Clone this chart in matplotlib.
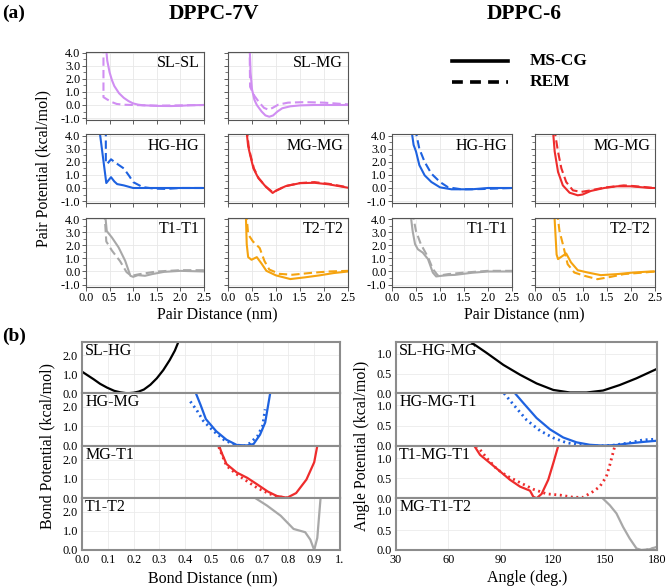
import matplotlib
matplotlib.use("Agg")
import matplotlib.pyplot as plt
from matplotlib.lines import Line2D
import numpy as np

plt.rcParams['font.family'] = ['Liberation Serif', 'DejaVu Serif']
plt.rcParams['axes.unicode_minus'] = False

# ---- (a) pair potentials, (x nm, kcal/mol) ----
# DPPC-7V
slsl_7v_ms = [(0.42, 4.6), (0.45, 3.4), (0.5, 2.5), (0.55, 1.9), (0.6, 1.45), (0.7, 0.9), (0.8, 0.55),
              (0.9, 0.3), (1.0, 0.12), (1.1, 0.03), (1.2, -0.02), (1.5, -0.07), (1.8, -0.08),
              (2.0, -0.06), (2.2, -0.02), (2.5, 0.0)]
slsl_7v_rem = [(0.37, 4.6), (0.37, 0.6), (0.45, 0.42), (0.55, 0.22), (0.65, 0.08), (0.8, 0.02),
               (1.0, 0.0), (1.5, -0.05), (2.0, -0.03), (2.5, 0.0)]
slmg_7v_ms = [(0.45, 4.6), (0.47, 2.5), (0.5, 1.2), (0.55, 0.4), (0.6, 0.0), (0.7, -0.5), (0.78, -0.8),
              (0.86, -0.9), (0.94, -0.8), (1.03, -0.5), (1.13, -0.25), (1.3, -0.1), (1.5, -0.03),
              (1.8, 0.0), (2.5, 0.0)]
slmg_7v_rem = [(0.45, 4.6), (0.46, 1.4), (0.55, 0.7), (0.65, 0.2), (0.75, -0.22), (0.84, -0.36),
               (0.93, -0.22), (1.05, 0.03), (1.25, 0.18), (1.6, 0.22), (2.0, 0.18), (2.3, 0.1), (2.5, 0.05)]
hghg_7v_ms = [(0.28, 4.6), (0.43, 0.38), (0.53, 0.83), (0.6, 0.5), (0.66, 0.3), (0.8, 0.2),
              (1.0, 0.0), (1.5, 0.0), (2.5, 0.0)]
hghg_7v_rem = [(0.42, 4.6), (0.42, 1.9), (0.45, 1.85), (0.53, 2.2), (0.62, 1.95), (0.8, 1.5),
               (0.92, 0.9), (1.0, 0.45), (1.2, 0.07), (1.45, -0.05), (1.7, -0.07), (2.0, 0.0), (2.5, 0.0)]
mgmg_7v_ms = [(0.38, 4.6), (0.42, 3.2), (0.46, 2.55), (0.53, 1.5), (0.63, 0.77), (0.78, 0.13),
              (0.93, -0.38), (1.0, -0.2), (1.2, 0.14), (1.5, 0.37), (1.8, 0.4), (2.1, 0.28), (2.5, 0.02)]
mgmg_7v_rem = [(0.39, 4.6), (0.43, 3.2), (0.47, 2.5), (0.54, 1.5), (0.64, 0.75), (0.79, 0.1),
               (0.94, -0.35), (1.02, -0.18), (1.2, 0.15), (1.5, 0.38), (1.8, 0.45), (2.1, 0.32), (2.5, 0.05)]
t1t1_7v_ms = [(0.4, 4.6), (0.44, 3.1), (0.55, 2.6), (0.69, 1.85), (0.83, 0.82), (0.94, -0.33),
              (1.0, -0.41), (1.1, -0.28), (1.25, -0.33), (1.4, -0.2), (1.65, -0.03), (2.0, 0.05), (2.5, 0.0)]
t1t1_7v_rem = [(0.39, 4.6), (0.43, 2.3), (0.55, 1.6), (0.72, 0.8), (0.86, -0.05), (0.96, -0.33),
               (1.14, -0.2), (1.5, 0.0), (2.0, 0.1), (2.5, 0.1)]
t2t2_7v_ms = [(0.37, 4.6), (0.39, 2.1), (0.42, 1.1), (0.49, 0.9), (0.6, 1.1), (0.7, 0.6), (0.8, 0.05),
              (1.0, -0.3), (1.3, -0.58), (1.6, -0.45), (1.9, -0.3), (2.2, -0.12), (2.5, 0.0)]
t2t2_7v_rem = [(0.38, 4.6), (0.42, 2.85), (0.52, 2.3), (0.66, 1.8), (0.76, 0.8), (0.86, 0.15),
               (1.07, -0.18), (1.34, -0.25), (1.75, -0.1), (2.1, 0.0), (2.5, 0.05)]
# DPPC-6
hghg_6_ms = [(0.4, 4.6), (0.45, 3.3), (0.5, 2.8), (0.57, 1.75), (0.68, 0.97), (0.82, 0.46),
             (1.0, 0.05), (1.24, -0.1), (1.66, -0.1), (2.0, 0.0), (2.5, 0.0)]
hghg_6_rem = [(0.48, 4.6), (0.57, 3.0), (0.68, 2.0), (0.82, 1.1), (1.0, 0.46), (1.17, 0.05),
              (1.45, -0.1), (1.87, -0.08), (2.5, 0.0)]
mgmg_6_ms = [(0.37, 4.6), (0.41, 2.8), (0.48, 1.23), (0.58, 0.2), (0.72, -0.36), (0.89, -0.56),
             (0.99, -0.5), (1.16, -0.23), (1.44, 0.0), (1.71, 0.13), (1.99, 0.13), (2.4, 0.0), (2.5, 0.0)]
mgmg_6_rem = [(0.4, 4.6), (0.48, 2.77), (0.55, 1.5), (0.65, 0.46), (0.79, -0.18), (0.96, -0.3),
              (1.16, -0.18), (1.44, 0.03), (1.85, 0.2), (2.05, 0.15), (2.5, 0.0)]
t1t1_6_ms = [(0.38, 4.6), (0.43, 3.1), (0.48, 2.1), (0.54, 1.7), (0.64, 1.45), (0.75, 0.95),
             (0.85, -0.08), (0.92, -0.38), (1.03, -0.33), (1.17, -0.28), (1.31, -0.26), (1.66, -0.1),
             (2.0, 0.0), (2.5, 0.0)]
t1t1_6_rem = [(0.42, 4.6), (0.5, 3.1), (0.6, 2.1), (0.75, 1.1), (0.85, 0.2), (0.96, -0.33),
              (1.17, -0.2), (1.52, -0.08), (2.0, 0.05), (2.5, 0.05)]
t2t2_6_ms = [(0.4, 4.6), (0.45, 1.3), (0.48, 0.95), (0.55, 1.13), (0.65, 1.38), (0.75, 0.7),
             (0.89, 0.1), (1.1, -0.08), (1.37, -0.28), (1.71, -0.2), (2.05, -0.08), (2.4, 0.0), (2.5, 0.0)]
t2t2_6_rem = [(0.46, 4.6), (0.51, 3.1), (0.58, 2.1), (0.68, 0.56), (0.82, -0.08), (1.03, -0.33),
              (1.3, -0.59), (1.58, -0.41), (1.85, -0.2), (2.26, -0.08), (2.5, 0.0)]

# ---- (b) bonded potentials ----
bond_slhg = [(0.0, 1.14), (0.045, 0.74), (0.07, 0.5), (0.097, 0.3), (0.125, 0.13), (0.149, 0.05),
             (0.175, 0.0), (0.2, 0.03), (0.22, 0.09), (0.24, 0.2), (0.265, 0.45), (0.29, 0.79),
             (0.315, 1.22), (0.34, 1.75), (0.36, 2.25), (0.375, 2.75)]
bond_hgmg_ms = [(0.44, 2.75), (0.46, 2.09), (0.48, 1.38), (0.52, 0.76), (0.56, 0.32), (0.6, 0.05),
                (0.64, 0.03), (0.665, 0.1), (0.69, 0.58), (0.71, 1.2), (0.73, 2.75)]
bond_hgmg_rem = [(0.42, 2.28), (0.445, 1.83), (0.47, 1.29), (0.51, 0.76), (0.55, 0.32), (0.59, 0.07),
                 (0.63, 0.0), (0.65, 0.14), (0.68, 0.5), (0.7, 1.03), (0.71, 1.88)]
bond_mgt1_ms = [(0.53, 2.78), (0.54, 2.39), (0.56, 1.77), (0.6, 1.33), (0.64, 1.06), (0.68, 0.71),
                (0.72, 0.35), (0.755, 0.12), (0.795, 0.03), (0.83, 0.27), (0.87, 0.97), (0.9, 1.86),
                (0.913, 2.78)]
bond_mgt1_rem = [(0.53, 2.65), (0.56, 1.68), (0.6, 1.24), (0.64, 0.88), (0.68, 0.53), (0.72, 0.27),
                 (0.755, 0.09), (0.795, 0.02)]
bond_t1t2 = [(0.665, 2.77), (0.717, 2.32), (0.77, 1.79), (0.82, 1.1), (0.865, 0.93), (0.885, 0.54),
             (0.9, 0.0), (0.912, 0.63), (0.925, 2.77)]

ang_slhgmg = [(72.6, 1.31), (82.2, 1.02), (91.7, 0.72), (101.3, 0.47), (110.8, 0.25), (120.4, 0.085),
              (130, 0.02), (139.5, 0.02), (149, 0.07), (158.6, 0.21), (168.2, 0.38), (180, 0.62)]
ang_hgmgt1_ms = [(98.4, 1.3), (103.2, 1.06), (110.8, 0.69), (118.5, 0.41), (126.1, 0.21), (133.8, 0.09),
                 (141.4, 0.03), (149, 0.01), (156.7, 0.025), (164.3, 0.066), (171.9, 0.1), (180, 0.13)]
ang_hgmgt1_rem = [(92.1, 1.3), (97.5, 1.02), (105.1, 0.64), (112.7, 0.38), (120.4, 0.2), (128, 0.08),
                  (135.7, 0.03), (145.2, 0.0), (154.8, 0.02), (164.3, 0.08), (171.9, 0.15), (180, 0.17)]
ang_t1mgt1_ms = [(74.9, 1.31), (78.3, 1.08), (84.1, 0.875), (89.8, 0.67), (95.5, 0.46), (101.3, 0.29),
                 (107, 0.19), (108.9, 0.04), (110.8, 0.0), (113.7, 0.11), (117.5, 0.46), (120.4, 0.875),
                 (123.3, 1.31)]
ang_t1mgt1_rem = [(76.4, 1.31), (82.2, 1.0), (87.9, 0.73), (93.6, 0.56), (101.3, 0.39), (108.9, 0.225),
                  (116.6, 0.11), (124.2, 0.08), (131.9, 0.025), (137.6, 0.025), (143.3, 0.17),
                  (147.1, 0.29), (150.9, 0.54), (152.9, 0.83), (155.7, 1.29)]
ang_mgt1t2_ms = [(149, 1.29), (152.9, 1.125), (156.7, 0.92), (160.5, 0.58), (164.3, 0.29), (168.2, 0.04),
                 (171, 0.0), (175.8, 0.02), (180, 0.08)]
ang_mgt1t2_rem = [(173.9, 0.0), (176.5, 0.03), (180, 0.07)]

purple = '#d08ef2'
blue = '#1e62e0'
red = '#ee2c2c'
gray = '#a8a8a8'
orange = '#f5a30f'

W, H = 666, 588
fig = plt.figure(figsize=(W / 100, H / 100), dpi=100)


def px_axes(x0, y0, x1, y1):
    return fig.add_axes([x0 / W, 1 - y1 / H, (x1 - x0) / W, (y1 - y0) / H])


def pair_panel(x0, y0, x1, y1, name, ms, rem, color, ylab, xlab):
    ax = px_axes(x0, y0, x1, y1)
    xs, ys = zip(*ms)
    ax.plot(xs, ys, color=color, lw=1.5)
    xs, ys = zip(*rem)
    ax.plot(xs, ys, color=color, lw=1.5, ls=(0, (4, 2)))
    ax.set_xlim(0, 2.5)
    ax.set_ylim(-1.15, 4.1)
    ax.set_xticks(np.arange(0, 2.51, 0.5))
    ax.set_yticks([-1, 0, 1, 2, 3, 4])
    ax.set_yticks(np.arange(-1, 4.01, 0.5), minor=True)
    ax.grid(True, color='#e8e8e8', lw=0.6)
    ax.set_axisbelow(True)
    ax.tick_params(direction='out', length=3, width=0.6, color='#444444', labelsize=8.8, pad=1)
    ax.tick_params(which='minor', direction='out', length=2, width=0.5, color='#444444')
    for s in ax.spines.values():
        s.set_color('#555555')
        s.set_linewidth(0.8)
    if ylab:
        ax.set_yticklabels(['%.1f' % v for v in [-1, 0, 1, 2, 3, 4]])
    else:
        ax.set_yticklabels([])
    if xlab:
        ax.set_xticklabels(['%.1f' % v for v in np.arange(0, 2.51, 0.5)])
    else:
        ax.set_xticklabels([])
    ax.text(0.96, 0.95, name, transform=ax.transAxes, ha='right', va='top', fontsize=11.5)
    return ax


cols = [(86, 204), (228, 348), (392, 512), (535, 655)]
rows = [(51.5, 120), (134.5, 203), (218, 286.5)]

pair_panel(cols[0][0], rows[0][0], cols[0][1], rows[0][1], 'SL-SL', slsl_7v_ms, slsl_7v_rem, purple, True, False)
pair_panel(cols[1][0], rows[0][0], cols[1][1], rows[0][1], 'SL-MG', slmg_7v_ms, slmg_7v_rem, purple, False, False)
pair_panel(cols[0][0], rows[1][0], cols[0][1], rows[1][1], 'HG-HG', hghg_7v_ms, hghg_7v_rem, blue, True, False)
pair_panel(cols[1][0], rows[1][0], cols[1][1], rows[1][1], 'MG-MG', mgmg_7v_ms, mgmg_7v_rem, red, False, False)
pair_panel(cols[0][0], rows[2][0], cols[0][1], rows[2][1], 'T1-T1', t1t1_7v_ms, t1t1_7v_rem, gray, True, True)
pair_panel(cols[1][0], rows[2][0], cols[1][1], rows[2][1], 'T2-T2', t2t2_7v_ms, t2t2_7v_rem, orange, False, True)
pair_panel(cols[2][0], rows[1][0], cols[2][1], rows[1][1], 'HG-HG', hghg_6_ms, hghg_6_rem, blue, True, False)
pair_panel(cols[3][0], rows[1][0], cols[3][1], rows[1][1], 'MG-MG', mgmg_6_ms, mgmg_6_rem, red, False, False)
pair_panel(cols[2][0], rows[2][0], cols[2][1], rows[2][1], 'T1-T1', t1t1_6_ms, t1t1_6_rem, gray, True, True)
pair_panel(cols[3][0], rows[2][0], cols[3][1], rows[2][1], 'T2-T2', t2t2_6_ms, t2t2_6_rem, orange, False, True)

# titles and labels for (a)
fig.text(14 / W, 1 - 13 / H, '(a)', fontsize=14, fontweight='bold', ha='center', va='center')
fig.text(214 / W, 1 - 14 / H, 'DPPC-7V', fontsize=15.5, fontweight='bold', ha='center', va='center')
fig.text(524 / W, 1 - 14 / H, 'DPPC-6', fontsize=15.5, fontweight='bold', ha='center', va='center')
fig.text(43 / W, 1 - 169 / H, 'Pair Potential (kcal/mol)', fontsize=11.5, rotation=90, ha='center', va='center')
fig.text(217 / W, 1 - 315 / H, 'Pair Distance (nm)', fontsize=11.5, ha='center', va='center')
fig.text(524 / W, 1 - 315 / H, 'Pair Distance (nm)', fontsize=11.5, ha='center', va='center')

# legend
fig.add_artist(Line2D([452 / W, 508 / W], [1 - 61 / H, 1 - 61 / H], color='black', lw=2.6))
fig.add_artist(Line2D([452 / W, 508 / W], [1 - 82 / H, 1 - 82 / H], color='black', lw=2.6, ls=(0, (3, 2))))
fig.text(530 / W, 1 - 61 / H, 'MS-CG', fontsize=12.5, fontweight='bold', va='center')
fig.text(530 / W, 1 - 82 / H, 'REM', fontsize=12.5, fontweight='bold', va='center')

# ---- (b) ----
fig.text(14 / W, 1 - 336 / H, '(b)', fontsize=14, fontweight='bold', ha='center', va='center')

bnd = [342, 393.3, 446, 498.3, 550]


def bonded_panel(x0, x1, i, name, ms, rem, color, xlim, xticks, xlabels, ylim, yticks):
    ax = px_axes(x0, bnd[i], x1, bnd[i + 1])
    xs, ys = zip(*ms)
    ax.plot(xs, ys, color=color, lw=1.6)
    if rem is not None:
        xs, ys = zip(*rem)
        ax.plot(xs, ys, color=color, lw=2.0, ls=(0, (0.7, 1.3)))
    ax.set_xlim(*xlim)
    ax.set_ylim(*ylim)
    ax.set_xticks(xticks)
    ax.set_yticks(yticks)
    ax.set_yticklabels(['%.1f' % v for v in yticks])
    if i == 3:
        ax.set_xticklabels(xlabels)
    else:
        ax.set_xticklabels([])
    ax.grid(True, color='#ebebeb', lw=0.6)
    ax.set_axisbelow(True)
    ax.tick_params(length=0, labelsize=8.8, pad=3)
    for s in ax.spines.values():
        s.set_color('#8c8c8c')
        s.set_linewidth(1.5)
    ax.text(0.012, 0.98, name, transform=ax.transAxes, ha='left', va='top', fontsize=11.5)
    return ax


bx = [0.0, 0.1, 0.2, 0.3, 0.4, 0.5, 0.6, 0.7, 0.8, 0.9, 1.0]
bxl = ['%.1f' % v for v in bx[:-1]] + ['1.']
bonded_panel(82, 340, 0, 'SL-HG', bond_slhg, None, 'black', (0, 1.0), bx, bxl, (0, 2.7), [0, 1, 2])
bonded_panel(82, 340, 1, 'HG-MG', bond_hgmg_ms, bond_hgmg_rem, blue, (0, 1.0), bx, bxl, (0, 2.7), [0, 1, 2])
bonded_panel(82, 340, 2, 'MG-T1', bond_mgt1_ms, bond_mgt1_rem, red, (0, 1.0), bx, bxl, (0, 2.7), [0, 1, 2])
bonded_panel(82, 340, 3, 'T1-T2', bond_t1t2, None, gray, (0, 1.0), bx, bxl, (0, 2.7), [0, 1, 2])

ax_ = [30, 60, 90, 120, 150, 180]
axl = [str(v) for v in ax_]
bonded_panel(396, 657, 0, 'SL-HG-MG', ang_slhgmg, None, 'black', (30, 180), ax_, axl, (0, 1.3), [0, 0.5, 1.0])
bonded_panel(396, 657, 1, 'HG-MG-T1', ang_hgmgt1_ms, ang_hgmgt1_rem, blue, (30, 180), ax_, axl, (0, 1.3), [0, 0.5, 1.0])
bonded_panel(396, 657, 2, 'T1-MG-T1', ang_t1mgt1_ms, ang_t1mgt1_rem, red, (30, 180), ax_, axl, (0, 1.3), [0, 0.5, 1.0])
bonded_panel(396, 657, 3, 'MG-T1-T2', ang_mgt1t2_ms, ang_mgt1t2_rem, gray, (30, 180), ax_, axl, (0, 1.3), [0, 0.5, 1.0])

fig.text(47 / W, 1 - 446 / H, 'Bond Potential (kcal/mol)', fontsize=11.5, rotation=90, ha='center', va='center')
fig.text(362 / W, 1 - 446 / H, 'Angle Potential (kcal/mol)', fontsize=11.5, rotation=90, ha='center', va='center')
fig.text(213 / W, 1 - 578 / H, 'Bond Distance (nm)', fontsize=11.5, ha='center', va='center')
fig.text(527 / W, 1 - 578 / H, 'Angle (deg.)', fontsize=11.5, ha='center', va='center')

fig.savefig('out.png', dpi=100)
